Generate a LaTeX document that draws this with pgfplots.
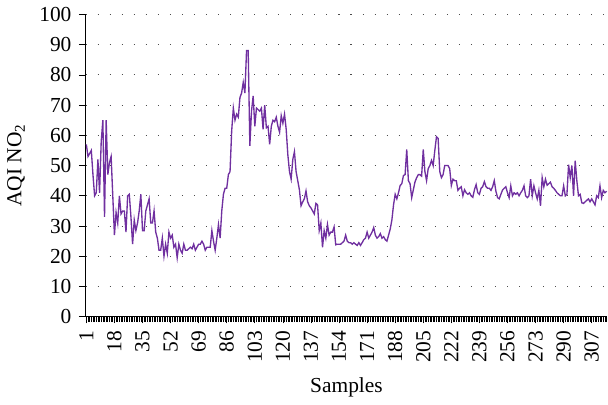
\documentclass[border=0pt]{standalone}
\usepackage{fontspec}
\setmainfont{Liberation Serif}
\usepackage{pgfplots}
\pgfplotsset{compat=1.18}
\definecolor{lineP}{RGB}{112,48,160}
\begin{document}
\fontsize{16}{18}\selectfont
\begin{tikzpicture}
\begin{axis}[
  scale only axis,
  width=390pt, height=226pt,
  xmin=0.5, xmax=316.5,
  ymin=0, ymax=100,
  axis x line=bottom, axis y line=left,
  axis line style={-, line width=0.9pt, black},
  xtick={1,18,35,52,69,86,103,120,137,154,171,188,205,222,239,256,273,290,307},
  minor xtick={1,...,316},
  ytick={0,10,...,100},
  tick align=outside,
  major tick length=5pt, minor tick length=4pt,
  tick style={black, line width=0.5pt},
  x tick label style={rotate=90, anchor=east},
  ymajorgrids,
  major grid style={black!70, line width=0.8pt, dash pattern=on 0.8pt off 8.2pt},
  /pgf/number format/assume math mode=true,
  tick label style={font=\fontsize{16}{18}\selectfont},
  label style={font=\fontsize{16}{18}\selectfont},
  xlabel={Samples},
  ylabel={AQI NO\textsubscript{2}},
  clip=false,
]
\addplot[lineP, line width=1pt, no markers] table[x expr=\coordindex+1, y index=0, header=false] {
57
53
54
55
47
40
41
52
41
58
65
33
65
47
51
53
40
27
34.5
31
40
34
35
35
28
40
40.5
33
24
32
28.5
31
35
40.5
28.5
28.5
35
37
39
31
31
35
28
26
22
22
26
20
24
21
28
26
27
23
24
19.5
24
22
21
24
22
22
22.5
23
22.5
24
22
23
24
24
25
24
22
23
23
23
28.5
25
22
26
30.5
26
35
40.5
42.5
42.5
47
48
61.5
69
65
67
66
72.5
74
77.5
74
88
88
56.5
68
73
63
69
68.5
68
69
62
70
62.5
63
57
63
65
64.5
66
63
61
66.5
64
67
62
53.6
48
45.5
52
54.6
48
45
42
36.7
38
39
41.6
38
36.7
36
35
34
37.5
37
28.5
31
23
28.5
26
30.5
27
28
28
29.7
23.8
24
24
24
24.5
25
27
25
24.5
24.5
24
24.5
24
23.6
24.5
23.6
24.5
25.5
26
28
26
27
28
29.5
27
26
26.5
27.5
26
26.5
25.5
25
27
29
32
37
40.5
39
41
43.4
44
46.7
47
55.3
45
44
39.4
42
44.6
46
47
47
46.5
55.3
48
45
49
50
51.7
50
55
59.5
59
48
46
47
50
50
50
49
43.4
45.5
45
45
41.8
42.5
43
40
42
41
40.5
41
40
39.5
42
43.7
41
40.5
42.5
43
44.7
43
42.5
42.5
41.8
43
45
41.5
39.4
39
40.5
41.9
42.5
43
41
39.4
43.3
40
41
40.5
41
40
41
41.8
43.3
40
39.4
40
45.5
40
43.3
41
39
41.8
36.7
46
43
45.5
43.5
44
44.5
43
42.5
41.8
41
40.5
40
40
43.3
40
40.5
50.3
46
50
40
51.6
45
40
40.5
37.7
37.5
38
38.5
39
38
39
38
37
40
39.4
43.3
39.4
41.8
41
41.5
};
\end{axis}
\end{tikzpicture}
\end{document}
